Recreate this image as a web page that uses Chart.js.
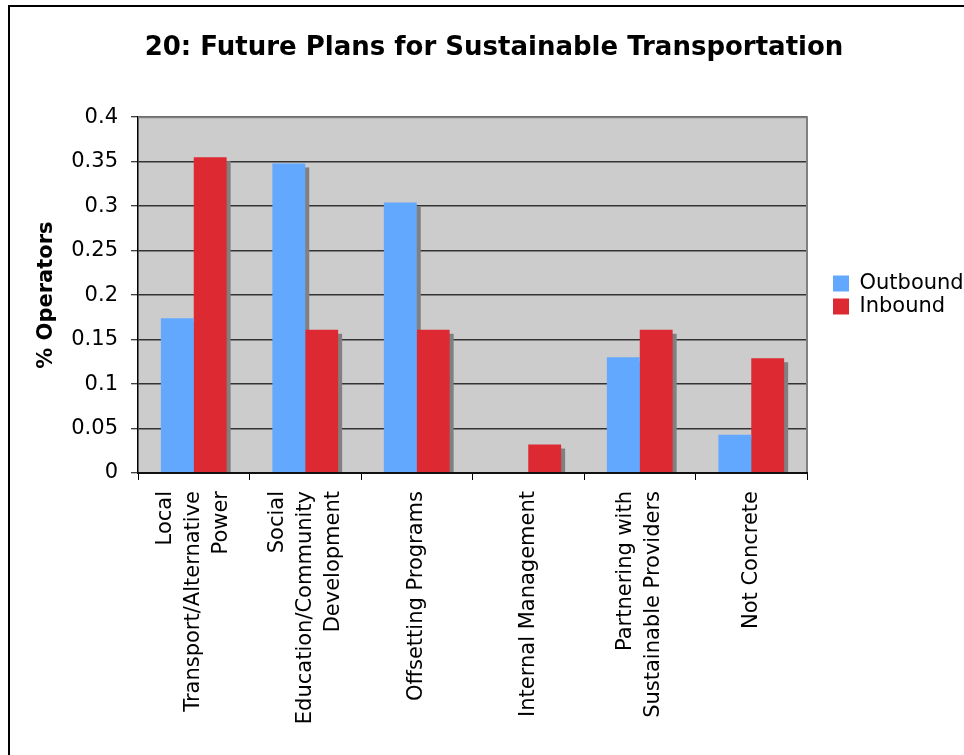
<!DOCTYPE html>
<html>
<head>
<meta charset="utf-8">
<style>
  body { margin: 0; padding: 0; background: #fff; }
  #wrap { position: relative; width: 964px; height: 755px; }
  #frame {
    position: absolute; left: 8px; top: 5px; right: 0; bottom: 0;
    border-left: 2px solid #000; border-top: 2px solid #000;
    pointer-events: none;
  }
</style>
</head>
<body>
<div id="wrap">
  <canvas id="chart"></canvas>
  <div id="frame"></div>
</div>

<script src="https://cdn.jsdelivr.net/npm/chart.js"></script>
<script>
// data
const categories = [
  ['Local', 'Transport/Alternative', 'Power'],
  ['Social', 'Education/Community', 'Development'],
  'Offsetting Programs',
  'Internal Management',
  ['Partnering with', 'Sustainable Providers'],
  'Not Concrete'
];
const outbound = [0.174, 0.348, 0.304, 0, 0.13, 0.043];
const inbound = [0.355, 0.161, 0.161, 0.032, 0.161, 0.129];
const seriesNames = ['Outbound', 'Inbound'];
const yTicks = { min: 0, max: 0.4, step: 0.05 };

Chart.defaults.font.family = "'DejaVu Sans', Verdana, sans-serif";
Chart.defaults.color = '#000';

// gray plot area, gray frame top/right, and bar shadows
const plotArea = {
  id: 'plotArea',
  beforeDraw(chart) {
    const { ctx, chartArea: a } = chart;
    ctx.save();
    ctx.fillStyle = '#cccccc';
    ctx.fillRect(a.left, a.top, a.right - a.left, a.bottom - a.top);
    ctx.restore();
  },
  beforeDatasetsDraw(chart) {
    const { ctx, chartArea: a } = chart;
    ctx.save();
    ctx.strokeStyle = '#808080';
    ctx.lineWidth = 2;
    ctx.beginPath();
    ctx.moveTo(a.left, a.top);
    ctx.lineTo(a.right, a.top);
    ctx.lineTo(a.right, a.bottom);
    ctx.stroke();

    ctx.beginPath();
    ctx.rect(a.left, a.top, a.right - a.left, a.bottom - a.top);
    ctx.clip();
    ctx.fillStyle = '#808080';
    chart.data.datasets.forEach((ds, i) => {
      chart.getDatasetMeta(i).data.forEach(bar => {
        const p = bar.getProps(['x', 'y', 'base', 'width'], true);
        const h = Math.abs(p.base - p.y);
        if (h > 0) ctx.fillRect(p.x - p.width / 2 + 4, Math.min(p.y, p.base) + 4, p.width, h);
      });
    });
    ctx.restore();
  }
};

// center multi-line rotated category labels on their tick
const centerLabels = {
  id: 'centerLabels',
  beforeDraw(chart) {
    const s = chart.scales.x;
    const items = s.getLabelItems();
    if (items._centered) return;
    items.forEach(it => {
      const n = Array.isArray(it.label) ? it.label.length : 1;
      it.options.translation[0] -= (n - 1) * it.font.lineHeight / 2;
    });
    items._centered = true;
  }
};

// legend: fixed width, items moved right of the plot
const legendFix = {
  id: 'legendFix',
  beforeInit(chart) {
    const fit = chart.legend.fit;
    chart.legend.fit = function () {
      fit.bind(chart.legend)();
      this.width = 157;
    };
  },
  afterLayout(chart) {
    chart.legend.left += 24;
    chart.legend.right += 24;
  }
};

new Chart(document.getElementById('chart'), {
  type: 'bar',
  data: {
    labels: categories,
    datasets: [
      { label: seriesNames[0], data: outbound, backgroundColor: '#63a8ff', borderWidth: 0 },
      { label: seriesNames[1], data: inbound, backgroundColor: '#dd2a32', borderWidth: 0 }
    ]
  },
  options: {
    responsive: true,
    maintainAspectRatio: false,
    animation: false,
    layout: { padding: { left: 24, right: 0, top: 0, bottom: 0 } },
    datasets: { bar: { categoryPercentage: 0.59, barPercentage: 1 } },
    plugins: {
      title: {
        display: true,
        text: '20: Future Plans for Sustainable Transportation',
        font: { size: 26, weight: 'bold' },
        color: '#000',
        padding: { top: 33, bottom: 53 }
      },
      legend: {
        position: 'right',
        fullSize: false,
        align: 'center',
        labels: {
          boxWidth: 16,
          boxHeight: 16,
          padding: 2,
          font: { size: 21 },
          color: '#000'
        }
      },
      tooltip: { enabled: false }
    },
    scales: {
      x: {
        offset: true,
        grid: {
          display: true,
          offset: true,
          drawOnChartArea: false,
          drawTicks: true,
          tickLength: 7,
          tickColor: '#000',
          tickWidth: 1
        },
        border: { display: true, color: '#111', width: 2, z: 1 },
        ticks: {
          autoSkip: false,
          minRotation: 90,
          maxRotation: 90,
          padding: 11,
          font: { size: 21, lineHeight: 1.333 },
          color: '#000'
        },
        afterFit(scale) { scale.height = 282; }
      },
      y: {
        min: yTicks.min,
        max: yTicks.max,
        grid: {
          color: '#333',
          lineWidth: 1.5,
          tickLength: 7,
          tickColor: '#000',
          tickWidth: 1
        },
        border: { display: true, color: '#000', width: 1.5 },
        ticks: {
          stepSize: yTicks.step,
          padding: 13,
          font: { size: 21 },
          color: '#000',
          callback: v => String(Number(v.toFixed(2)))
        },
        title: {
          display: true,
          text: '% Operators',
          font: { size: 21, weight: 'bold' },
          color: '#000',
          padding: { top: 10, bottom: 0 }
        },
        afterFit(scale) { scale.width = 114; }
      }
    }
  },
  plugins: [plotArea, centerLabels, legendFix]
});
</script>
</body>
</html>
